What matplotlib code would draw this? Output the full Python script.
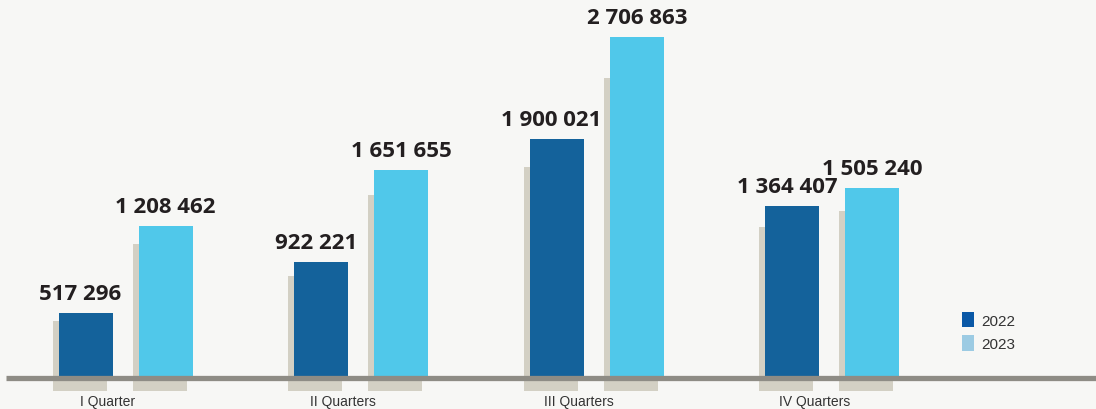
import matplotlib
matplotlib.use("Agg")
import matplotlib.pyplot as plt
from matplotlib.patches import Patch
import numpy as np

# Quarterly figures
categories = ["I Quarter", "II Quarters", "III Quarters", "IV Quarters"]
values_2022 = [517296, 922221, 1900021, 1364407]
values_2023 = [1208462, 1651655, 2706863, 1505240]
series_names = ["2022", "2023"]

bar_colors = ["#14629b", "#50c8ea"]
legend_colors = ["#0a58a6", "#9ccbe3"]
shadow_color = "#d3d0c4"
bg_color = "#f7f7f5"
text_color = "#231f20"


def fmt(v):
    return f"{v:,}".replace(",", " ")


W, H = 1096, 410
fig = plt.figure(figsize=(W / 100, H / 100), dpi=100, facecolor=bg_color)
ax = fig.add_axes([0, 0, 1, 1])
ax.set_facecolor(bg_color)

# pixel <-> data scaling
px_x = 235.6          # pixels per category step
x0_px = 125.6         # pixel x of first group centre
px_per_unit = 1.26e-4  # pixels per value unit
base_px = 31.0        # baseline height from the bottom, in pixels

ax.set_xlim(-x0_px / px_x, (W - x0_px) / px_x)
ax.set_ylim(-base_px / px_per_unit, (H - base_px) / px_per_unit)
ax.axis("off")

x = np.arange(len(categories))
bw = 54 / px_x
off = 40 / px_x
sh_dx = 6 / px_x
sh_below = 12.5 / px_per_unit

for vals, sign, color, dx_lab in [
    (values_2022, -1, bar_colors[0], -4),
    (values_2023, 1, bar_colors[1], 0),
]:
    vals = np.array(vals, dtype=float)
    xs = x + sign * off
    # soft shadow block behind each bar
    ax.bar(xs - sh_dx, vals * 0.88 + sh_below, width=bw, bottom=-sh_below,
           color=shadow_color, zorder=1, linewidth=0)
    ax.bar(xs, vals, width=bw, color=color, zorder=2, linewidth=0)
    for xi, v in zip(xs, vals):
        ax.annotate(fmt(int(v)), (xi, v), xytext=(dx_lab, 10),
                    textcoords="offset points", ha="center", va="baseline",
                    fontsize=16, fontweight="bold", family="Open Sans",
                    color=text_color, zorder=5)

# baseline
ax.plot([6 / px_x - x0_px / px_x, (W - x0_px) / px_x], [0, 0],
        color="#8e8c85", lw=3.8, solid_capstyle="butt", zorder=3)

# category labels
for xi, lab in zip(x, categories):
    ax.annotate(lab, (xi - 18 / px_x, 0), xytext=(0, -16.5),
                textcoords="offset points", ha="center", va="center",
                fontsize=10, family="Liberation Sans", color="#333333")

handles = [Patch(facecolor=c, edgecolor="none") for c in legend_colors]
leg = fig.legend(handles, series_names, loc="upper left",
                 bbox_to_anchor=(962 / W, 1 - 313 / H), frameon=False,
                 handlelength=0.8, handleheight=1.15, handletextpad=0.45,
                 labelspacing=0.5, borderpad=0, borderaxespad=0,
                 prop={"family": "Liberation Sans", "size": 11})
for t in leg.get_texts():
    t.set_color("#333333")

fig.savefig("out.png", dpi=100, facecolor=bg_color)
